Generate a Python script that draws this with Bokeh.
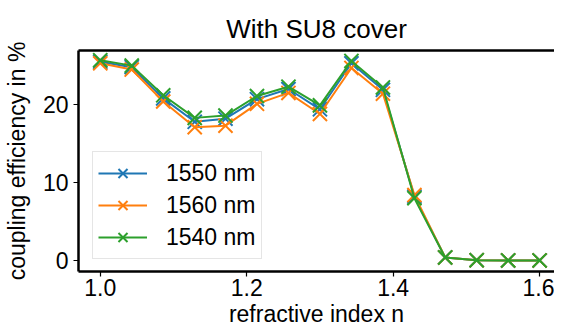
from bokeh.plotting import figure
from bokeh.models import Range1d, FixedTicker, LinearAxis, Legend
from bokeh.embed import file_html
from bokeh.resources import INLINE

# Data
n_index = [1.000, 1.043, 1.086, 1.129, 1.171, 1.214, 1.257, 1.300,
           1.343, 1.386, 1.429, 1.471, 1.514, 1.557, 1.600]
eff_1550 = [25.5, 24.8, 20.8, 17.8, 18.2, 20.7, 22.0, 19.4,
            25.3, 21.9, 8.2, 0.4, 0.05, 0.02, 0.02]
eff_1560 = [25.3, 24.5, 20.4, 17.1, 17.3, 20.1, 21.5, 18.8,
            24.7, 21.4, 8.4, 0.4, 0.05, 0.02, 0.02]
eff_1540 = [25.7, 25.0, 21.2, 18.3, 18.6, 21.1, 22.3, 19.9,
            25.6, 22.2, 8.0, 0.4, 0.05, 0.02, 0.02]
series_labels = ["1550 nm", "1560 nm", "1540 nm"]
series_colors = ["#1f77b4", "#ff7f0e", "#2ca02c"]
x_ticks = [1.0, 1.2, 1.4, 1.6]
y_ticks = [0, 10, 20]

FONT = "Liberation Sans"

p = figure(width=554, height=329, output_backend="svg", toolbar_location=None,
           x_range=Range1d(0.9703, 1.6203), y_range=Range1d(-1.40, 26.94),
           min_border_left=73, min_border_right=0, min_border_top=50,
           min_border_bottom=55)
p.outline_line_color = None
p.xgrid.visible = False
p.ygrid.visible = False

p.title.text = "With SU8 cover"
p.title.align = "center"
p.title.text_font = FONT
p.title.text_font_size = "26px"
p.title.text_font_style = "normal"
p.title.text_color = "black"
p.title.standoff = 14

for ax in (p.xaxis[0], p.yaxis[0]):
    ax.axis_line_width = 2.5
    ax.axis_line_color = "black"
    ax.major_tick_line_width = 1.2
    ax.major_tick_line_color = "black"
    ax.major_tick_out = 5
    ax.major_tick_in = 0
    ax.minor_tick_line_color = None
    ax.major_label_text_font = FONT
    ax.major_label_text_font_size = "23px"
    ax.major_label_text_color = "black"
    ax.axis_label_text_font = FONT
    ax.axis_label_text_font_size = "23px"
    ax.axis_label_text_font_style = "normal"
    ax.axis_label_text_color = "black"

p.xaxis.ticker = FixedTicker(ticks=x_ticks)
p.xaxis.major_label_overrides = {t: f"{t:.1f}" for t in x_ticks}
p.xaxis.axis_label = "refractive index n"
p.xaxis.major_label_standoff = 2
p.xaxis.axis_label_standoff = 2

p.yaxis.ticker = FixedTicker(ticks=y_ticks)
p.yaxis.axis_label = "coupling efficiency in %"
p.yaxis.major_label_standoff = 5
p.yaxis.axis_label_standoff = 10

top = LinearAxis(ticker=FixedTicker(ticks=[]), axis_line_width=2.5,
                 axis_line_color="black", major_tick_line_color=None,
                 minor_tick_line_color=None, major_label_text_font_size="0px")
p.add_layout(top, "above")

items = []
for ys, lab, col in zip([eff_1550, eff_1560, eff_1540], series_labels, series_colors):
    r1 = p.line(n_index, ys, line_color=col, line_width=2)
    r2 = p.scatter(n_index, ys, marker="x", size=20, line_color=col, line_width=2)
    items.append((lab, [r1, r2]))

legend = Legend(items=items, location=(14, 12))
legend.label_text_font = FONT
legend.label_text_font_size = "23px"
legend.label_text_color = "black"
legend.glyph_width = 49
legend.glyph_height = 32
legend.label_height = 32
legend.label_standoff = 19
legend.spacing = 0
legend.padding = 5
legend.margin = 0
legend.border_line_color = "#cccccc"
legend.border_line_width = 1
legend.background_fill_color = "white"
legend.background_fill_alpha = 0.8
p.add_layout(legend, "center")

open("out.html", "w").write(file_html(p, INLINE))
